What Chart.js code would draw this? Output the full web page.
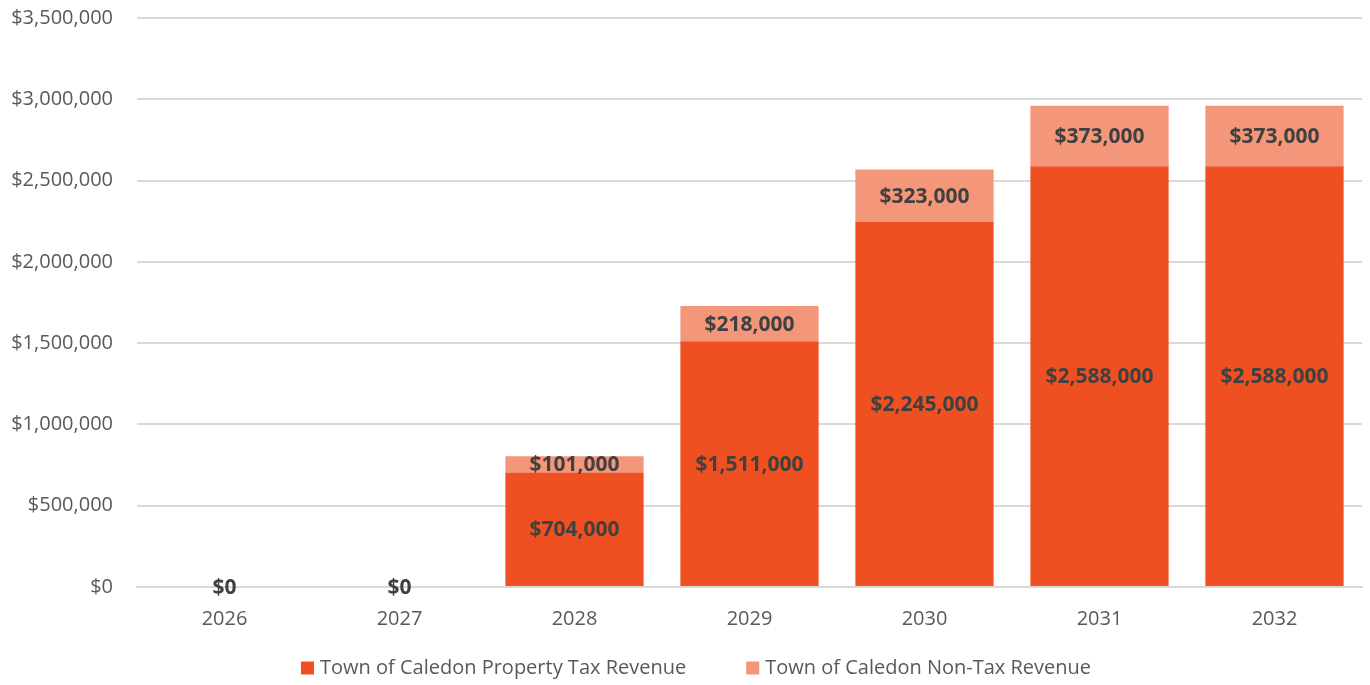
<!DOCTYPE html>
<html>
<head>
<meta charset="utf-8">
<script src="https://cdn.jsdelivr.net/npm/chart.js@4"></script>
<style>
  body { margin: 0; background: #fff; }
  #wrap { width: 1370px; height: 685px; }
</style>
</head>
<body>
<div id="wrap"><canvas id="revChart"></canvas></div>
<script>
const years = ['2026', '2027', '2028', '2029', '2030', '2031', '2032'];
const propertyTax = [0, 0, 704000, 1511000, 2245000, 2588000, 2588000];
const nonTax = [0, 0, 101000, 218000, 323000, 373000, 373000];
const yTicks = [0, 500000, 1000000, 1500000, 2000000, 2500000, 3000000, 3500000];

const money = v => '$' + v.toLocaleString('en-US');
const font = '"Open Sans", sans-serif';

// ラベルをバーの中央に描く
const barLabels = {
    id: 'barLabels',
    afterDatasetsDraw(chart) {
        const ctx = chart.ctx;
        ctx.save();
        ctx.font = 'bold 21px ' + font;
        ctx.fillStyle = '#404040';
        ctx.textAlign = 'center';
        ctx.textBaseline = 'middle';
        chart.data.datasets.forEach((ds, di) => {
            chart.getDatasetMeta(di).data.forEach((bar, i) => {
                const v = ds.data[i];
                if (di === 1 && v === 0) return;
                const y = v === 0 ? bar.base : (bar.y + bar.base) / 2;
                ctx.fillText(money(v), bar.x, y + 1);
            });
        });
        ctx.restore();
    }
};

// 凡例（項目の間隔を広めに取るため自前で描く）
const bottomLegend = {
    id: 'bottomLegend',
    afterDraw(chart) {
        const ctx = chart.ctx;
        const items = chart.data.datasets;
        const box = 13, gap = 6, spacing = 60, cy = 668, cx = 696;
        ctx.save();
        ctx.font = '20px ' + font;
        ctx.textBaseline = 'middle';
        const widths = items.map(ds => ctx.measureText(ds.label).width);
        const total = widths.reduce((a, w) => a + box + gap + w, 0) + spacing * (items.length - 1);
        let x = cx - total / 2;
        items.forEach((ds, i) => {
            ctx.fillStyle = ds.backgroundColor;
            ctx.fillRect(x, cy - box / 2, box, box);
            ctx.fillStyle = '#595959';
            ctx.fillText(ds.label, x + box + gap, cy);
            x += box + gap + widths[i] + spacing;
        });
        ctx.restore();
    }
};

const ctx = document.getElementById('revChart').getContext('2d');
new Chart(ctx, {
    type: 'bar',
    data: {
        labels: years,
        datasets: [
            { label: 'Town of Caledon Property Tax Revenue', data: propertyTax, backgroundColor: '#EE5022' },
            { label: 'Town of Caledon Non-Tax Revenue', data: nonTax, backgroundColor: '#F4967A' }
        ]
    },
    options: {
        responsive: true,
        maintainAspectRatio: false,
        animation: false,
        layout: { padding: { top: 18, right: 8, left: 0, bottom: 0 } },
        datasets: { bar: { barPercentage: 0.79, categoryPercentage: 1 } },
        scales: {
            x: {
                stacked: true,
                grid: { display: false, drawTicks: false },
                border: { color: '#d9d9d9', width: 2 },
                afterFit: s => { s.height = 98; },
                ticks: { color: '#595959', font: { size: 20, family: font }, padding: 20 }
            },
            y: {
                stacked: true,
                min: 0,
                max: 3500000,
                afterBuildTicks: s => { s.ticks = yTicks.map(v => ({ value: v })); },
                afterFit: s => { s.width = 137; s.paddingTop = 0; s.paddingBottom = 0; },
                grid: { color: '#d9d9d9', lineWidth: 2, drawTicks: false },
                border: { display: false },
                ticks: {
                    color: '#595959',
                    font: { size: 20, family: font },
                    padding: 24,
                    callback: v => money(v)
                }
            }
        },
        plugins: {
            legend: { display: false },
            tooltip: { enabled: false }
        }
    },
    plugins: [barLabels, bottomLegend]
});
</script>
</body>
</html>
